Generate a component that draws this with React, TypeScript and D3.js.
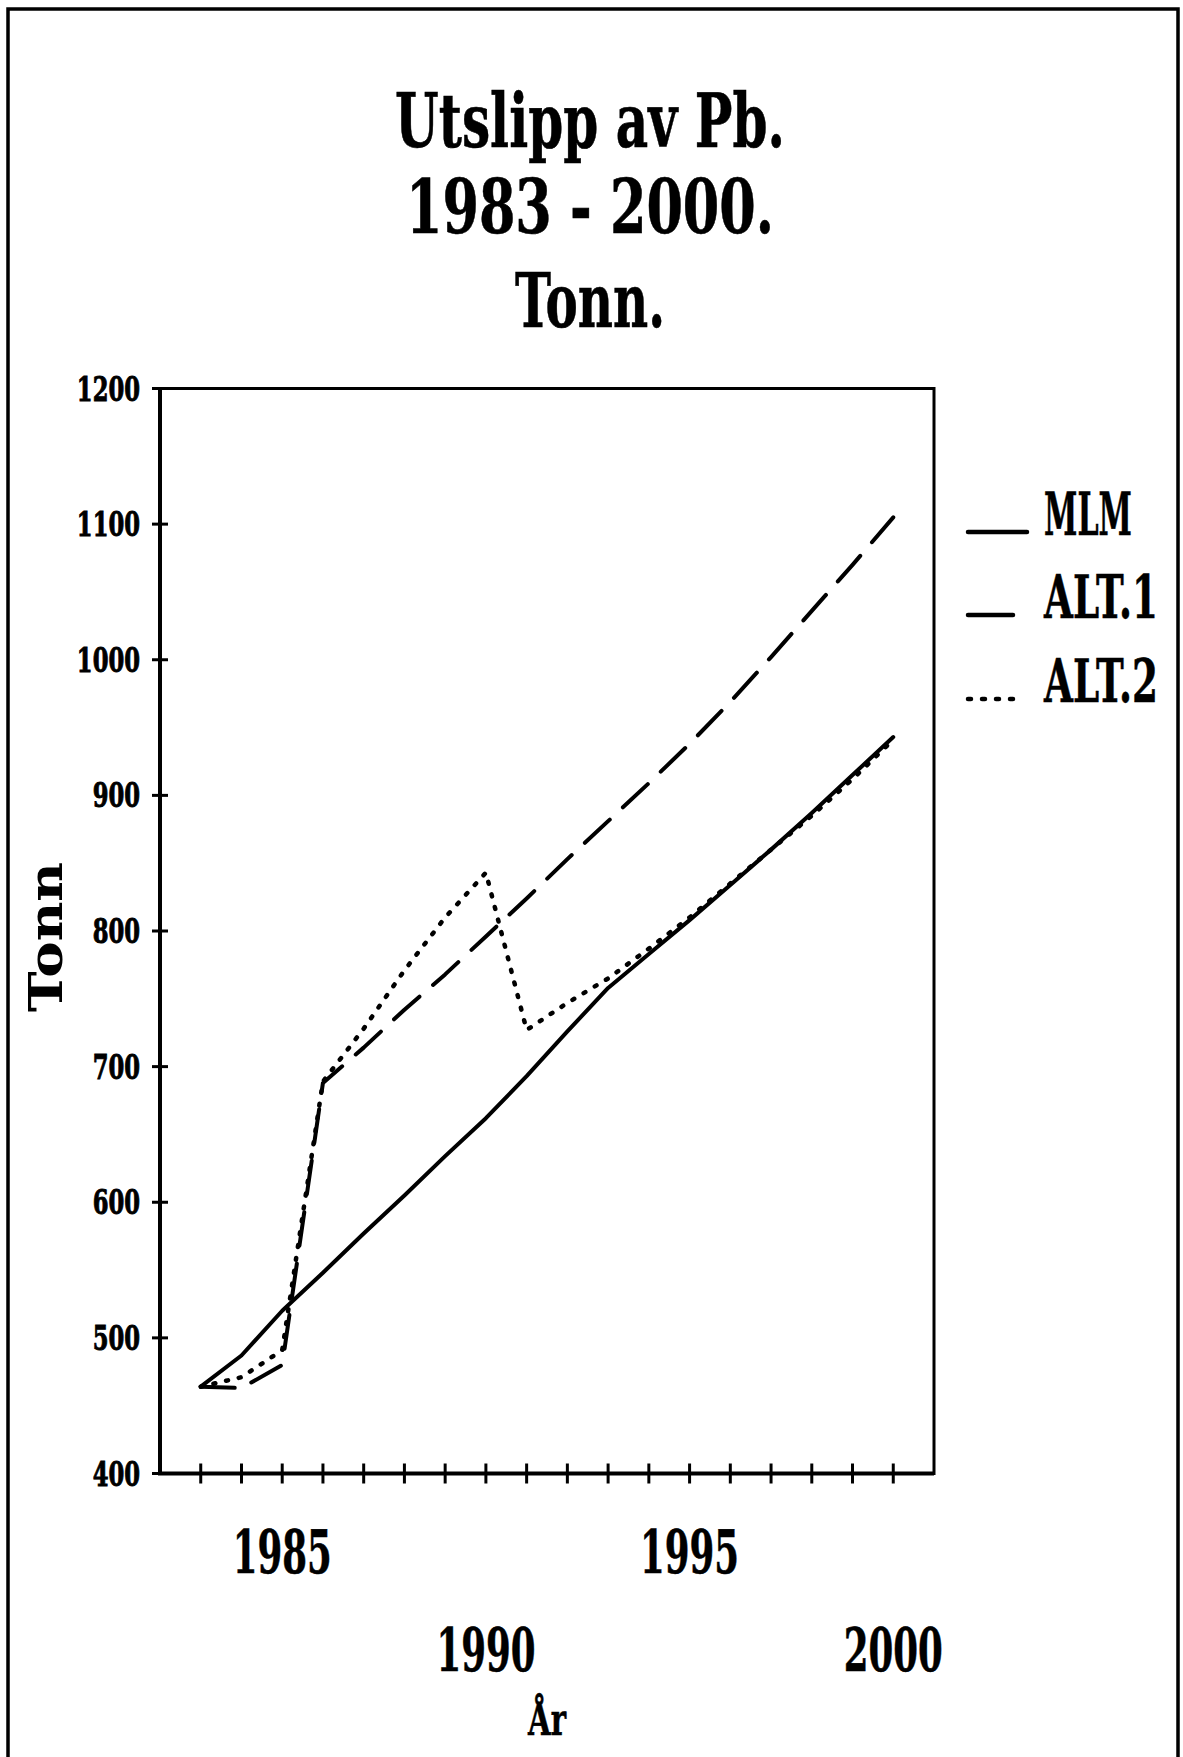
import React, { useEffect, useRef } from 'react';
import * as d3 from 'd3';

const years = [1983, 1984, 1985, 1986, 1987, 1988, 1989, 1990, 1991, 1992, 1993, 1994, 1995, 1996, 1997, 1998, 1999, 2000];
const mlm = [464, 487, 520, 548, 577, 605, 634, 662, 693, 726, 758, 783, 808, 834, 860, 887, 915, 943];
const alt1 = [464, 463, 480, 688, 714, 742, 768, 796, 824, 853, 881, 909, 938, 969, 1002, 1036, 1070, 1105];
const alt2 = [464, 471, 491, 689, 728, 771, 810, 843, 727, 747, 765, 787, 810, 835, 860, 885, 912, 941];

const yTicks = [400, 500, 600, 700, 800, 900, 1000, 1100, 1200];
const xLabelYears = [1985, 1990, 1995, 2000];
const titleLines = ['Utslipp av Pb.', '1983 - 2000.', 'Tonn.'];
const seriesNames = ['MLM', 'ALT.1', 'ALT.2'];
const xTitle = 'År';
const yTitle = 'Tonn';

function App() {
  const svgRef = useRef<SVGSVGElement>(null);

  useEffect(() => {
    if (!svgRef.current) return;

    const width = 1183;
    const height = 1757;
    const font = "'DejaVu Serif', 'Liberation Serif', serif";

    d3.select(svgRef.current).selectAll('*').remove();

    const svg = d3.select(svgRef.current)
      .attr('width', width)
      .attr('height', height)
      .attr('viewBox', `0 0 ${width} ${height}`);

    svg.append('rect')
      .attr('width', width)
      .attr('height', height)
      .attr('fill', '#fff');

    // squeezed bold serif text, scaled to the width it has in the picture
    const narrowText = (t: string, px: number, py: number, size: number, w: number, anchor: string, heavy = 0) => {
      const node = svg.append('text')
        .attr('text-anchor', anchor)
        .attr('font-family', font)
        .attr('font-weight', 'bold')
        .attr('font-size', size)
        .attr('stroke', heavy ? '#000' : null)
        .attr('stroke-width', heavy || null)
        .text(t);
      const len = (node.node() as SVGTextElement).getComputedTextLength() || w;
      node.attr('transform', `translate(${px},${py}) scale(${w / len},1)`);
      return node;
    };

    // page frame, open at the bottom
    svg.append('path')
      .attr('d', `M8,${height} L8,9 L1178,9 L1178,${height}`)
      .attr('fill', 'none')
      .attr('stroke', '#000')
      .attr('stroke-width', 3.5);

    // title
    const titleBase = [147, 233, 327];
    const titleWidth = [390, 368, 150];
    titleLines.forEach((t, i) => {
      narrowText(t, 590, titleBase[i], 74, titleWidth[i], 'middle', 0.6);
    });

    const x = d3.scaleLinear().domain([1982, 2001]).range([160, 934]);
    const y = d3.scaleLinear().domain([400, 1200]).range([1473.5, 388.5]);

    // plot frame
    svg.append('rect')
      .attr('x', x(1982))
      .attr('y', y(1200))
      .attr('width', x(2001) - x(1982))
      .attr('height', y(400) - y(1200))
      .attr('fill', 'none')
      .attr('stroke', '#000')
      .attr('stroke-width', 3);

    svg.append('path')
      .attr('d', `M${x(1982)},${y(1200)} L${x(1982)},${y(400)} L${x(2001)},${y(400)}`)
      .attr('fill', 'none')
      .attr('stroke', '#000')
      .attr('stroke-width', 4);

    // y ticks and labels
    yTicks.forEach(v => {
      svg.append('line')
        .attr('x1', x(1982) - 8)
        .attr('x2', x(1982) + 8)
        .attr('y1', y(v))
        .attr('y2', y(v))
        .attr('stroke', '#000')
        .attr('stroke-width', 3);

      const label = String(v);
      narrowText(label, 140, y(v) + 12, 34, label.length * 15.8, 'end', 1);
    });

    // x ticks
    years.forEach(yr => {
      svg.append('line')
        .attr('x1', x(yr))
        .attr('x2', x(yr))
        .attr('y1', y(400) - 10)
        .attr('y2', y(400) + 10)
        .attr('stroke', '#000')
        .attr('stroke-width', 3);
    });

    // x labels, staggered on two rows
    xLabelYears.forEach((yr, i) => {
      narrowText(String(yr), x(yr), i % 2 === 0 ? 1573 : 1671, 59, 99, 'middle', 0.6);
    });

    narrowText(xTitle, 547, 1735, 45, 38, 'middle', 0.6);

    svg.append('text')
      .attr('transform', 'translate(62,937) rotate(-90)')
      .attr('text-anchor', 'middle')
      .attr('font-family', font)
      .attr('font-weight', 'bold')
      .attr('font-size', 47)
      .attr('textLength', 150)
      .attr('lengthAdjust', 'spacingAndGlyphs')
      .text(yTitle);

    // series
    const styles = [
      { data: mlm, dash: null, w: 4 },
      { data: alt1, dash: '34 18', w: 4 },
      { data: alt2, dash: '2 11', w: 4.5 }
    ];

    const line = d3.line<number>()
      .x((d, i) => x(years[i]))
      .y(d => y(d));

    styles.forEach(s => {
      svg.append('path')
        .attr('d', line(s.data))
        .attr('fill', 'none')
        .attr('stroke', '#000')
        .attr('stroke-width', s.w)
        .attr('stroke-linejoin', 'round')
        .attr('stroke-linecap', 'round')
        .attr('stroke-dasharray', s.dash);
    });

    // legend
    const legY = [532, 615, 699];
    const legTextY = [535, 618, 702];
    const legTextW = [88, 114, 114];
    const legLine = [
      { x2: 1027, dash: null },
      { x2: 1013, dash: null },
      { x2: 1017, dash: '3 11' }
    ];
    seriesNames.forEach((name, i) => {
      svg.append('line')
        .attr('x1', 968)
        .attr('x2', legLine[i].x2)
        .attr('y1', legY[i])
        .attr('y2', legY[i])
        .attr('stroke', '#000')
        .attr('stroke-width', 4.5)
        .attr('stroke-linecap', 'round')
        .attr('stroke-dasharray', legLine[i].dash);

      narrowText(name, 1044, legTextY[i], 59, legTextW[i], 'start', 0.6);
    });
  }, []);

  return (
    <div style={{ position: 'absolute', left: 0, top: 0 }}>
      <svg ref={svgRef}></svg>
    </div>
  );
}

export default App;
